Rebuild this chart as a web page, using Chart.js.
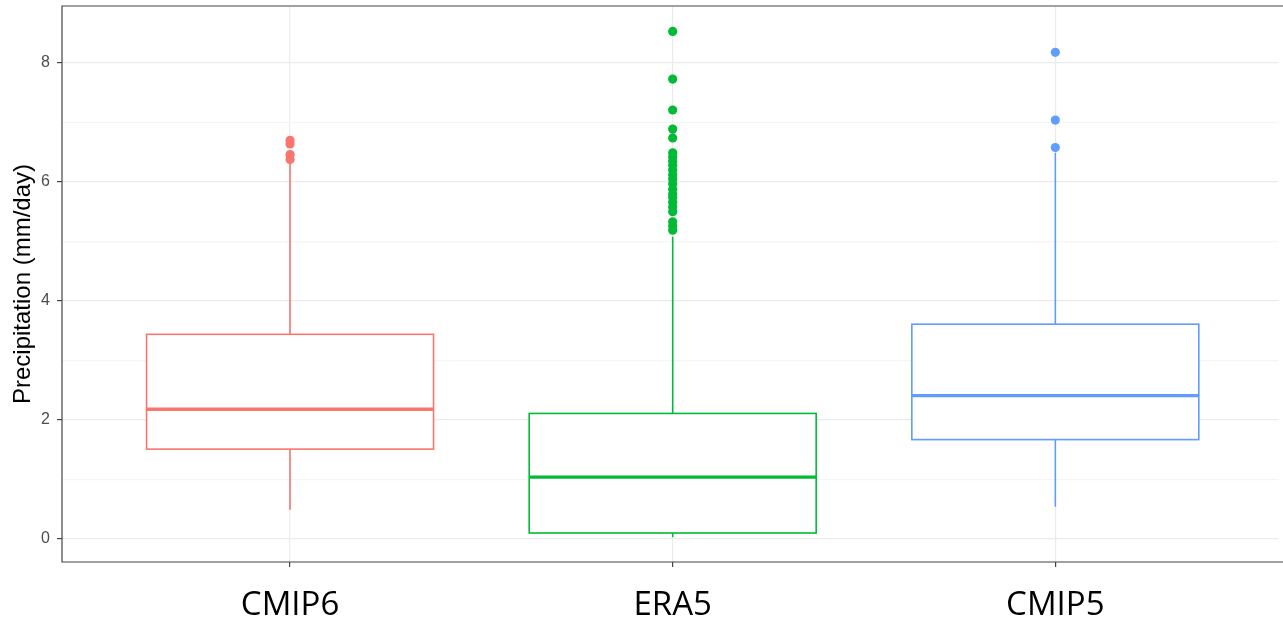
<!DOCTYPE html>
<html>
<head>
<meta charset="utf-8">
<script src="https://cdn.jsdelivr.net/npm/chart.js@4"></script>
<style>
  html, body { margin: 0; padding: 0; background: #fff; }
  #wrap { width: 1283px; height: 623px; }
</style>
</head>
<body>
<div id="wrap"><canvas id="myChart" width="1283" height="623"></canvas></div>
<script>
const categories = ['CMIP6', 'ERA5', 'CMIP5'];
const colors = ['#F8766D', '#00BA38', '#619CFF'];

// five-number summaries
const whiskerLow = [0.49, 0.03, 0.54];
const q1 = [1.51, 0.10, 1.67];
const medians = [2.18, 1.04, 2.41];
const q3 = [3.44, 2.11, 3.61];
const whiskerHigh = [6.35, 5.08, 6.49];

const outliersCMIP6 = [6.70, 6.64, 6.46, 6.38];
const outliersERA5 = [8.53, 7.73, 7.21, 6.89, 6.74, 6.49, 6.42, 6.35, 6.28, 6.20, 6.12, 6.05,
  5.97, 5.88, 5.80, 5.74, 5.66, 5.58, 5.50, 5.33, 5.26, 5.19];
const outliersCMIP5 = [8.18, 7.04, 6.58];

const yTicks = [0, 2, 4, 6, 8];
const yGrid = [0, 1, 2, 3, 4, 5, 6, 7, 8];

const outliers = [outliersCMIP6, outliersERA5, outliersCMIP5];
const boxHalf = 0.375;

const ctx = document.getElementById('myChart').getContext('2d');

// boxes and whiskers, drawn under the outlier points
const boxPlugin = {
  id: 'boxes',
  beforeDatasetsDraw(chart) {
    const xs = chart.scales.x, ys = chart.scales.y;
    const c = chart.ctx;
    c.save();
    for (let i = 0; i < categories.length; i++) {
      const cx = xs.getPixelForValue(i + 1);
      const l = xs.getPixelForValue(i + 1 - boxHalf);
      const r = xs.getPixelForValue(i + 1 + boxHalf);
      c.strokeStyle = colors[i];
      c.lineWidth = 1.6;
      c.beginPath();
      c.moveTo(cx, ys.getPixelForValue(whiskerLow[i]));
      c.lineTo(cx, ys.getPixelForValue(q1[i]));
      c.moveTo(cx, ys.getPixelForValue(q3[i]));
      c.lineTo(cx, ys.getPixelForValue(whiskerHigh[i]));
      c.stroke();
      const top = ys.getPixelForValue(q3[i]);
      const bot = ys.getPixelForValue(q1[i]);
      c.fillStyle = '#fff';
      c.fillRect(l, top, r - l, bot - top);
      c.strokeRect(l, top, r - l, bot - top);
      c.lineWidth = 3.4;
      c.beginPath();
      const m = ys.getPixelForValue(medians[i]);
      c.moveTo(l, m);
      c.lineTo(r, m);
      c.stroke();
    }
    c.restore();
  },
  afterDraw(chart) {
    const a = chart.chartArea;
    const c = chart.ctx;
    c.save();
    c.strokeStyle = '#444';
    c.lineWidth = 1.2;
    c.beginPath();
    c.moveTo(chart.width, a.top);
    c.lineTo(a.left, a.top);
    c.lineTo(a.left, a.bottom);
    c.lineTo(chart.width, a.bottom);
    c.stroke();
    c.restore();
  }
};

const datasets = outliers.map((vals, i) => ({
  label: categories[i],
  data: vals.map(v => ({ x: i + 1, y: v })),
  backgroundColor: colors[i],
  borderColor: colors[i],
  pointRadius: 4.6,
  pointBorderWidth: 0,
  pointHoverRadius: 4.6
}));

const config = {
  type: 'scatter',
  data: { datasets: datasets },
  plugins: [boxPlugin],
  options: {
    responsive: false,
    animation: false,
    layout: { padding: { top: 6, right: 0, left: 0, bottom: 0 } },
    plugins: {
      legend: { display: false },
      tooltip: { enabled: false }
    },
    scales: {
      x: {
        type: 'linear',
        min: 0.404,
        max: 3.583,
        afterBuildTicks: s => { s.ticks = categories.map((c, i) => ({ value: i + 1 })); },
        afterFit: s => { s.height = 61; s.paddingLeft = 0; s.paddingRight = 0; },
        border: { display: false },
        grid: { color: '#ebebeb', lineWidth: 1.2, tickColor: '#444', tickLength: 5 },
        ticks: {
          callback: (v) => categories[v - 1],
          color: '#000',
          font: { family: 'Open Sans', size: 33 },
          padding: 19
        }
      },
      y: {
        type: 'linear',
        min: -0.387,
        max: 8.958,
        afterBuildTicks: s => { s.ticks = yGrid.map(v => ({ value: v })); },
        afterFit: s => { s.width = 62; s.paddingTop = 0; s.paddingBottom = 0; },
        border: { display: false },
        grid: {
          color: ctx => (yTicks.includes(ctx.tick.value) ? '#ebebeb' : '#f5f5f5'),
          lineWidth: 1.2,
          tickColor: ctx => (yTicks.includes(ctx.tick.value) ? '#444' : 'rgba(0,0,0,0)'),
          tickLength: 5
        },
        ticks: {
          callback: v => (yTicks.includes(v) ? String(v) : ''),
          color: '#4d4d4d',
          font: { family: 'Liberation Sans', size: 16 },
          padding: 7
        },
        title: {
          display: true,
          text: 'Precipitation (mm/day)',
          color: '#000',
          font: { family: 'Liberation Sans', size: 24 },
          padding: { top: 9, bottom: 0 }
        }
      }
    }
  }
};

const myChart = new Chart(ctx, config);
</script>
</body>
</html>
